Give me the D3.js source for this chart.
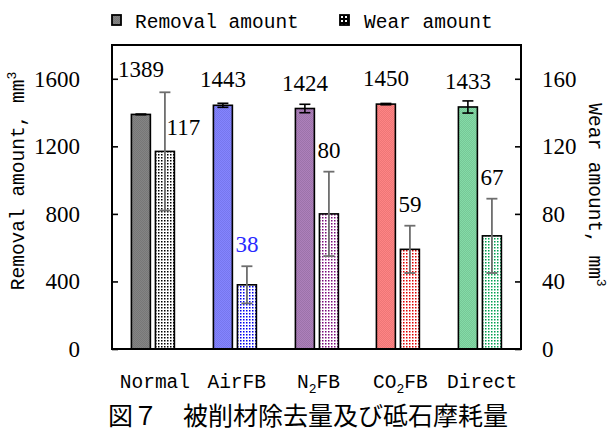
<!DOCTYPE html>
<html>
<head>
<meta charset="utf-8">
<script src="https://cdn.jsdelivr.net/npm/d3@7"></script>
<style>
  html, body { margin: 0; padding: 0; background: #fff; }
  svg { display: block; }
  .serif { font-family: "Liberation Serif", "DejaVu Serif", serif; }
  .mono { font-family: "Liberation Mono", "DejaVu Sans Mono", monospace; }
  .cjk { font-family: "Noto Sans CJK JP", sans-serif; }
</style>
</head>
<body>
<svg id="chart" width="609" height="435"></svg>
<script>
// Grinding conditions
const categories = ["Normal", "AirFB", "N2FB", "CO2FB", "Direct"];
// Workpiece removal amount, mm3 (left axis)
const removal = [1389, 1443, 1424, 1450, 1433];
const removalErr = [2, 12, 25, 4, 36];
// Wheel wear amount, mm3 (right axis)
const wear = [117, 38, 80, 59, 67];
const wearErr = [35, 11, 25, 14, 22];
// Axis ticks
const leftTicks = [0, 400, 800, 1200, 1600];
const rightTicks = [0, 40, 80, 120, 160];
// Per-condition colours
const barColors = ["#808080", "#8080ff", "#a87cb6", "#ff8080", "#80d6a2"];
const dotColors = ["#000000", "#0000ee", "#7a0a7a", "#e00000", "#00a050"];
const wearLabelColors = ["#000", "#2a2aff", "#000", "#000", "#000"];

const svg = d3.select("#chart");
const plot = { left: 112, right: 521, top: 45, bottom: 349 };

// Scales
const x0 = d3.scaleBand().domain(categories).range([plot.left, plot.right]).padding(0);
const x1 = d3.scaleBand().domain(["removal", "wear"])
  .range([x0.bandwidth() / 2 - 21.5, x0.bandwidth() / 2 + 21.5]).paddingInner(0.21);
const yL = d3.scaleLinear().domain([0, 1800]).range([plot.bottom, plot.top]);
const yR = d3.scaleLinear().domain([0, 180]).range([plot.bottom, plot.top]);

// Fill patterns: fine dither for removal bars, dots for wear bars
const defs = svg.append("defs");
categories.forEach((c, i) => {
  const base = d3.color(barColors[i]);
  const p = defs.append("pattern").attr("id", "rem" + i)
    .attr("patternUnits", "userSpaceOnUse").attr("width", 2).attr("height", 2);
  p.append("rect").attr("width", 2).attr("height", 2).attr("fill", base.brighter(0.08));
  p.append("rect").attr("width", 1).attr("height", 1).attr("fill", base.darker(0.2));
  p.append("rect").attr("x", 1).attr("y", 1).attr("width", 1).attr("height", 1).attr("fill", base.darker(0.2));

  const q = defs.append("pattern").attr("id", "wear" + i)
    .attr("patternUnits", "userSpaceOnUse").attr("width", 3).attr("height", 3);
  q.append("rect").attr("width", 3).attr("height", 3).attr("fill", "#fff");
  q.append("rect").attr("x", 1).attr("y", 1).attr("width", 1.5).attr("height", 1.5).attr("fill", dotColors[i]);
});
// Legend icon pattern (white dots on black)
const lp = defs.append("pattern").attr("id", "wearLegend")
  .attr("patternUnits", "userSpaceOnUse").attr("width", 4).attr("height", 4)
  .attr("x", 340).attr("y", 15);
lp.append("rect").attr("width", 4).attr("height", 4).attr("fill", "#000");
lp.append("rect").attr("x", 1).attr("y", 1).attr("width", 2).attr("height", 2).attr("fill", "#fff");

// Groups sit on whole pixels so the fill patterns stay crisp
const groups = svg.append("g").selectAll("g").data(categories).join("g")
  .attr("transform", d => `translate(${Math.round(x0(d))},0)`);

// Removal bars
groups.append("rect")
  .attr("x", x1("removal")).attr("width", x1.bandwidth())
  .attr("y", (d, i) => yL(removal[i]))
  .attr("height", (d, i) => yL(0) - yL(removal[i]))
  .attr("fill", (d, i) => `url(#rem${i})`)
  .attr("stroke", "#000").attr("stroke-width", 1.6);

// Wear bars
groups.append("rect")
  .attr("x", x1("wear")).attr("width", x1.bandwidth())
  .attr("y", (d, i) => yR(wear[i]))
  .attr("height", (d, i) => yR(0) - yR(wear[i]))
  .attr("fill", (d, i) => `url(#wear${i})`)
  .attr("stroke", "#000").attr("stroke-width", 1.6);

// Error bars
function errorBar(g, cx, yTop, yBot, color, width) {
  const cap = 5.5;
  g.append("line").attr("x1", cx).attr("x2", cx).attr("y1", yTop).attr("y2", yBot)
    .attr("stroke", color).attr("stroke-width", width);
  [yTop, yBot].forEach(yy => g.append("line")
    .attr("x1", cx - cap).attr("x2", cx + cap).attr("y1", yy).attr("y2", yy)
    .attr("stroke", color).attr("stroke-width", width));
}
groups.each(function (d, i) {
  const g = d3.select(this);
  const cr = x1("removal") + x1.bandwidth() / 2;
  errorBar(g, cr, yL(removal[i] + removalErr[i]), yL(removal[i] - removalErr[i]), "#000", 1.6);
  const cw = x1("wear") + x1.bandwidth() / 2;
  errorBar(g, cw, yR(wear[i] + wearErr[i]), yR(wear[i] - wearErr[i]), "#6e6e6e", 1.8);
});

// Value labels
groups.append("text").attr("class", "serif")
  .attr("x", x1("removal") + x1.bandwidth() / 2)
  .attr("y", (d, i) => yL(removal[i]) - (i === 0 ? 37 : 18))
  .attr("text-anchor", "middle")
  .attr("font-size", 23).attr("fill", "#000")
  .text((d, i) => removal[i]);

groups.append("text").attr("class", "serif")
  .attr("x", (d, i) => x1("wear") + x1.bandwidth() / 2 + (i === 0 ? 18.5 : 0))
  .attr("y", (d, i) => i === 0 ? yR(wear[i]) - 16 : yR(wear[i] + wearErr[i]) - 14)
  .attr("text-anchor", "middle")
  .attr("font-size", 23)
  .attr("fill", (d, i) => wearLabelColors[i])
  .text((d, i) => wear[i]);

// Axes (ticks point inward)
const fmt = d3.format("d");
const axL = svg.append("g").attr("transform", `translate(${plot.left},0)`)
  .call(d3.axisLeft(yL).tickValues(leftTicks).tickFormat(fmt)
    .tickSizeInner(-6).tickSizeOuter(0).tickPadding(32));
const axR = svg.append("g").attr("transform", `translate(${plot.right},0)`)
  .call(d3.axisRight(yR).tickValues(rightTicks).tickFormat(fmt)
    .tickSizeInner(-6).tickSizeOuter(0).tickPadding(21));
[axL, axR].forEach(ax => {
  ax.attr("font-family", null).attr("font-size", null);
  ax.select(".domain").remove();
  ax.selectAll(".tick line").attr("stroke", "#000").attr("stroke-width", 1.6);
  ax.selectAll(".tick text").attr("class", "serif").attr("font-size", 23).attr("fill", "#000");
});

// Plot frame
svg.append("rect")
  .attr("x", plot.left).attr("y", plot.top)
  .attr("width", plot.right - plot.left).attr("height", plot.bottom - plot.top)
  .attr("fill", "none").attr("stroke", "#000").attr("stroke-width", 2);

// Category labels with subscripts
const xl = svg.append("g").selectAll("text").data(categories).join("text")
  .attr("class", "mono")
  .attr("x", d => x0(d) + x0.bandwidth() / 2 + 2)
  .attr("y", 388)
  .attr("text-anchor", "middle")
  .attr("font-size", 19.5).attr("fill", "#000");
xl.each(function (d) {
  const t = d3.select(this);
  const m = d.match(/^([A-Za-z]+?)(2)(FB)$/);
  if (m) {
    t.append("tspan").text(m[1]);
    t.append("tspan").attr("font-size", 13).attr("dy", 5).text(m[2]);
    t.append("tspan").attr("dy", -5).text(m[3]);
  } else {
    t.text(d);
  }
});

// Axis titles
const tl = svg.append("text").attr("class", "mono")
  .attr("transform", `translate(24,181) rotate(-90)`)
  .attr("text-anchor", "middle")
  .attr("font-size", 19.5).attr("fill", "#000");
tl.append("tspan").text("Removal amount, mm");
tl.append("tspan").attr("font-size", 13).attr("dy", -8).text("3");

const tr = svg.append("text").attr("class", "mono")
  .attr("transform", `translate(589,195) rotate(90)`)
  .attr("text-anchor", "middle")
  .attr("font-size", 19.5).attr("fill", "#000");
tr.append("tspan").text("Wear amount, mm");
tr.append("tspan").attr("font-size", 13).attr("dy", -8).text("3");

// Legend
const legend = svg.append("g");
legend.append("rect").attr("x", 112).attr("y", 15).attr("width", 9).attr("height", 10)
  .attr("fill", "url(#rem0)").attr("stroke", "#000").attr("stroke-width", 1.8);
legend.append("text").attr("class", "mono").attr("x", 135).attr("y", 28)
  .attr("font-size", 19.5).text("Removal amount");
legend.append("rect").attr("x", 340).attr("y", 15).attr("width", 9).attr("height", 10)
  .attr("fill", "url(#wearLegend)").attr("stroke", "#000").attr("stroke-width", 1.8);
legend.append("text").attr("class", "mono").attr("x", 364).attr("y", 28)
  .attr("font-size", 19.5).text("Wear amount");

// Caption
svg.append("text").attr("class", "cjk").attr("x", 108).attr("y", 425)
  .attr("font-size", 25).attr("fill", "#000")
  .text("図７　被削材除去量及び砥石摩耗量");
</script>
</body>
</html>
